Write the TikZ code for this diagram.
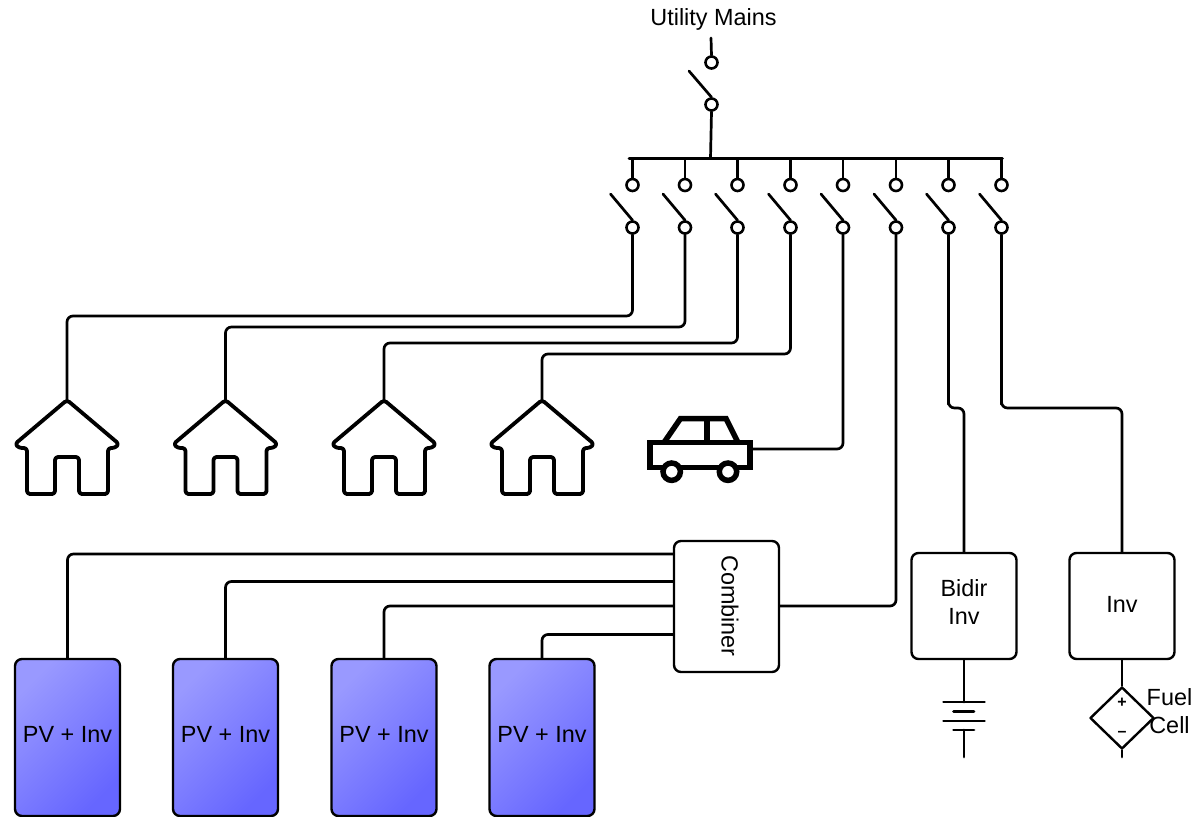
\documentclass[tikz,border=0pt]{standalone}
\usepackage{fontspec}
\setmainfont{Liberation Sans}
\usetikzlibrary{shapes.geometric}
\definecolor{pvlight}{HTML}{9999FF}
\definecolor{pvdark}{HTML}{6666FF}
\begin{document}
\begin{tikzpicture}[
    x=1pt,
    y=-1pt,
    line cap=round,
    line join=round,
    wire/.style={
        line width=2.7pt,
        rounded corners=6pt
    },
    plain/.style={
        line width=2.7pt
    },
    contact/.style={
        draw,
        circle,
        line width=2.6pt,
        minimum size=12pt,
        inner sep=0pt
    },
    houseline/.style={
        line width=3.8pt,
        rounded corners=3pt
    },
    carline/.style={
        line width=5.5pt,
        line cap=butt,
        line join=miter
    },
    unitbox/.style={
        draw,
        line width=2.4pt,
        rounded corners=7pt,
        minimum width=105pt,
        align=center,
        inner sep=0pt
    },
    pvbox/.style={
        unitbox,
        minimum height=157pt,
        text height=16pt,
        text depth=6pt,
        top color=pvlight,
        bottom color=pvdark,
        shading angle=45
    },
    every node/.style={
        font=\fontsize{23.4}{28.5}\selectfont
    }
]

\useasboundingbox (0,0) rectangle (1195,817);

% =================================================
% Mains switch and bus bar
% =================================================

\node (mains) at (713.5,19.5) {Utility Mains};
\coordinate (maininp) at (711,38);
\coordinate (busL) at (629,158.5);
\coordinate (busR) at (1002.5,158.5);
\coordinate (busT) at (710.5,158.5);

\node[contact] (maintop) at (711.5,62.5) {};
\node[contact] (mainbot) at (711.5,104.5) {};
\coordinate (mainblade) at (689,71);

\draw[plain] (maininp) -- (maintop.north);
\draw[plain] (mainblade) -- (mainbot.north);
\draw[plain] (mainbot.south) -- (busT);
\draw[plain] (busL) -- (busR);

% =================================================
% Branch switches
% =================================================

\foreach \n/\x in {1/632.5,2/685,3/737.5,4/790.5,5/843,6/896,7/948.5,8/1001.5} {
    \coordinate (tap\n) at (\x,158.5);
    \coordinate (blade\n) at (\x-22,194);
    \node[contact] (swtop\n) at (\x,185) {};
    \node[contact] (swbot\n) at (\x,227.5) {};
    \draw[plain] (tap\n) -- (swtop\n.north);
    \draw[plain] (blade\n) -- (swbot\n.north);
}

% =================================================
% Houses
% =================================================

\foreach \n/\x in {1/67,2/225.5,3/384,4/542} {
    \coordinate (house\n) at (\x,400);
    \draw[houseline, shift={(\x,400)}]
        (0,0) -- (-52,44) -- (-48,48) -- (-40,48) -- (-40,94) -- (-12,94)
        -- (-12,57) -- (12,57) -- (12,94) -- (41,94) -- (41,48) -- (48,48)
        -- (52,44) -- cycle;
}

\foreach \n/\y in {1/316,2/327,3/343,4/354} {
    \draw[wire] (swbot\n.south) |- (house\n |- 0,\y) -- (house\n);
}

% =================================================
% Car
% =================================================

\draw[carline] (650,442.5) rectangle (750,467.5);
\draw[carline] (664,442.5) -- (680.5,418.5) -- (726,418.5) -- (738,442.5);
\draw[carline] (707,418.5) -- (707,442.5);
\draw[carline, fill=white] (671.7,471.7) circle (8.7);
\draw[carline, fill=white] (728,471.7) circle (8.7);
\coordinate (car) at (752,449);

\draw[wire] (swbot5.south) |- (car);

% =================================================
% PV strings and combiner
% =================================================

\node[unitbox, minimum height=131pt] (combiner) at (726.5,606.5) {};
\node[rotate=-90] (combinertext) at (730,606) {Combiner};

\foreach \n/\x/\y in {1/67.5/554,2/225.5/581.5,3/384/606,4/542/634.5} {
    \node[pvbox] (pv\n) at (\x,737.5) {PV + Inv};
    \draw[wire] (pv\n.north) |- (combiner.west |- 0,\y);
}

\draw[wire] (combiner.east |- 0,606) -| (swbot6.south);

% =================================================
% Battery branch
% =================================================

\node[unitbox, minimum height=106pt] (bidir) at (964,606) {};
\node[align=center] (bidirtext) at (964,602) {Bidir\\Inv};
\coordinate (batop) at (964,702);
\coordinate (batbot) at (964,730);
\coordinate (batend) at (964,757);

\draw[wire] (swbot7.south) |- (948.5,408) -| (bidir.north);
\draw[plain] (bidir.south) -- (batop);
\draw[plain] (batbot) -- (batend);

\draw[plain] (943.5,702) -- (984.5,702);
\draw[plain] (953.5,711.5) -- (974,711.5);
\draw[plain] (943.5,721) -- (984.5,721);
\draw[plain] (953.5,730) -- (974,730);

% =================================================
% Fuel cell branch
% =================================================

\node[unitbox, minimum height=106pt] (inv) at (1122,606) {};
\node (invtext) at (1122,604) {Inv};
\node[draw, diamond, line width=2.4pt, minimum width=64pt, minimum height=62pt,
      inner sep=0pt] (fuel) at (1122,718) {};
\node[inner sep=0pt, font=\fontsize{16}{16}\selectfont\bfseries] (fuelplus) at (1122,702.5) {+};
\node[inner sep=0pt, font=\fontsize{16}{16}\selectfont\bfseries] (fuelminus) at (1122,733.5) {–};
\node[align=center, inner sep=0pt] (fueltext) at (1169.5,711) {Fuel\\Cell};
\coordinate (fuelend) at (1122,757);

\draw[wire] (swbot8.south) |- (1001.5,408) -| (inv.north);
\draw[plain] (inv.south) -- (fuel.north);
\draw[plain] (fuel.south) -- (fuelend);

\end{tikzpicture}
\end{document}
